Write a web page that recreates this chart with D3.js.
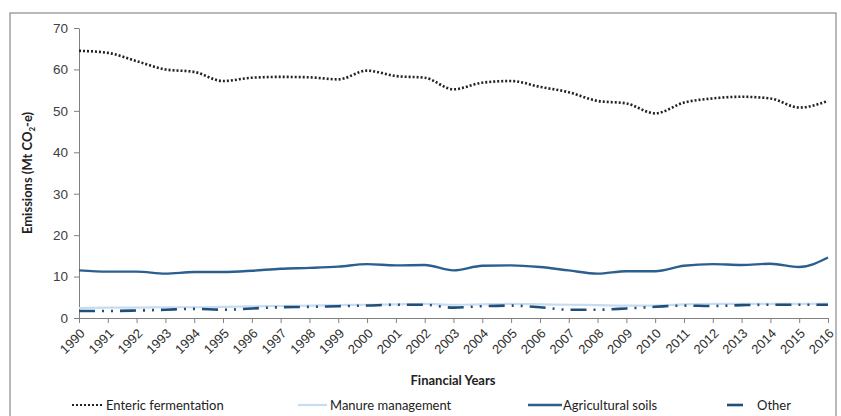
<!DOCTYPE html>
<html><head><meta charset="utf-8">
<script src="https://cdn.jsdelivr.net/npm/d3@7/dist/d3.min.js"></script>
<style>
body{margin:0;background:#fff;}
svg{font-family:Lato,"Open Sans",sans-serif;}
</style></head>
<body><svg id="c" width="841" height="416"></svg>
<script>
const years = d3.range(1990, 2017).map(String);
const enteric = [64.5,64.0,62.0,60.0,59.4,57.2,58.0,58.2,58.1,57.6,59.7,58.4,58.0,55.2,56.8,57.2,55.8,54.5,52.4,51.8,49.4,52.0,53.0,53.4,53.0,50.8,52.4];
const manure = [2.4,2.5,2.5,2.6,2.6,2.7,2.8,2.9,3.0,3.1,3.2,3.3,3.4,3.2,3.3,3.4,3.3,3.2,3.1,3.0,3.0,3.3,3.4,3.4,3.4,3.4,3.5];
const soils = [11.5,11.2,11.2,10.7,11.1,11.1,11.4,11.9,12.1,12.4,13.0,12.7,12.8,11.5,12.6,12.7,12.3,11.5,10.7,11.3,11.3,12.6,13.0,12.8,13.1,12.3,14.6];
const other = [1.7,1.7,1.8,2.0,2.2,2.0,2.3,2.6,2.7,2.85,3.0,3.2,3.2,2.5,2.85,3.0,2.6,2.0,2.0,2.3,2.7,3.0,2.9,3.1,3.2,3.2,3.2];
const yTicks = [0,10,20,30,40,50,60,70];
const seriesNames = ["Enteric fermentation","Manure management","Agricultural soils","Other"];

const svg = d3.select("#c");
svg.append("rect").attr("x",10).attr("y",13).attr("width",826).attr("height",420)
  .attr("fill","none").attr("stroke","#8a8a8a").attr("stroke-width",1.2);

const x = d3.scalePoint().domain(years).range([79,828]);
const y = d3.scaleLinear().domain([0,70]).range([318,28]);

const axisColor = "#808080";
const gy = svg.append("g").attr("transform","translate(79,0)")
  .call(d3.axisLeft(y).tickValues(yTicks).tickSize(5).tickSizeOuter(0).tickPadding(6));
gy.selectAll("text").attr("font-size",13.5).attr("fill","#404040");
gy.selectAll("line,path").attr("stroke",axisColor);

const gx = svg.append("g").attr("transform","translate(0,318)")
  .call(d3.axisBottom(x).tickSize(5).tickSizeOuter(0));
gx.selectAll("line,path").attr("stroke",axisColor);
gx.selectAll("text").attr("font-size",13).attr("fill","#303030")
  .attr("text-anchor","end").attr("dy","0.35em").attr("y",0)
  .attr("transform","translate(3,13) rotate(-45)");

const line = d3.line().x((d,i)=>x(years[i])).y(d=>y(d)).curve(d3.curveMonotoneX);

svg.append("path").datum(manure).attr("d",line).attr("fill","none")
  .attr("stroke","#c6dcf2").attr("stroke-width",2.2);
svg.append("path").datum(other).attr("d",line).attr("fill","none")
  .attr("stroke","#1f4e79").attr("stroke-width",2.6).attr("stroke-dasharray","16,7,2,7,2,7");
svg.append("path").datum(soils).attr("d",line).attr("fill","none")
  .attr("stroke","#2a5f8f").attr("stroke-width",2.4);
svg.append("path").datum(enteric).attr("d",line).attr("fill","none")
  .attr("stroke","#222").attr("stroke-width",2.6).attr("stroke-dasharray","2,2");

const yt = svg.append("text").attr("transform","translate(32,173) rotate(-90)")
  .attr("text-anchor","middle").attr("font-size",13).attr("font-weight","bold").attr("fill","#222");
yt.append("tspan").text("Emissions (Mt CO");
yt.append("tspan").text("2").attr("font-size",8).attr("dy",3);
yt.append("tspan").text("-e)").attr("dy",-3);

svg.append("text").attr("x",453).attr("y",385).attr("text-anchor","middle")
  .attr("font-size",13).attr("font-weight","bold").attr("fill","#222").text("Financial Years");

const leg = [
  {x1:72,x2:102,tx:106,stroke:"#222",w:2.2,dash:"2,2"},
  {x1:298,x2:327,tx:330,stroke:"#c6dcf2",w:2.2,dash:null},
  {x1:528,x2:562,tx:563,stroke:"#2a5f8f",w:2.6,dash:null},
  {x1:727,x2:743,tx:757,stroke:"#1f4e79",w:2.6,dash:null}
];
leg.forEach((l,i)=>{
  svg.append("line").attr("x1",l.x1).attr("x2",l.x2).attr("y1",405).attr("y2",405)
    .attr("stroke",l.stroke).attr("stroke-width",l.w).attr("stroke-dasharray",l.dash);
  svg.append("text").attr("x",l.tx).attr("y",410).attr("font-size",13).attr("fill","#222")
    .text(seriesNames[i]);
});
</script></body></html>
